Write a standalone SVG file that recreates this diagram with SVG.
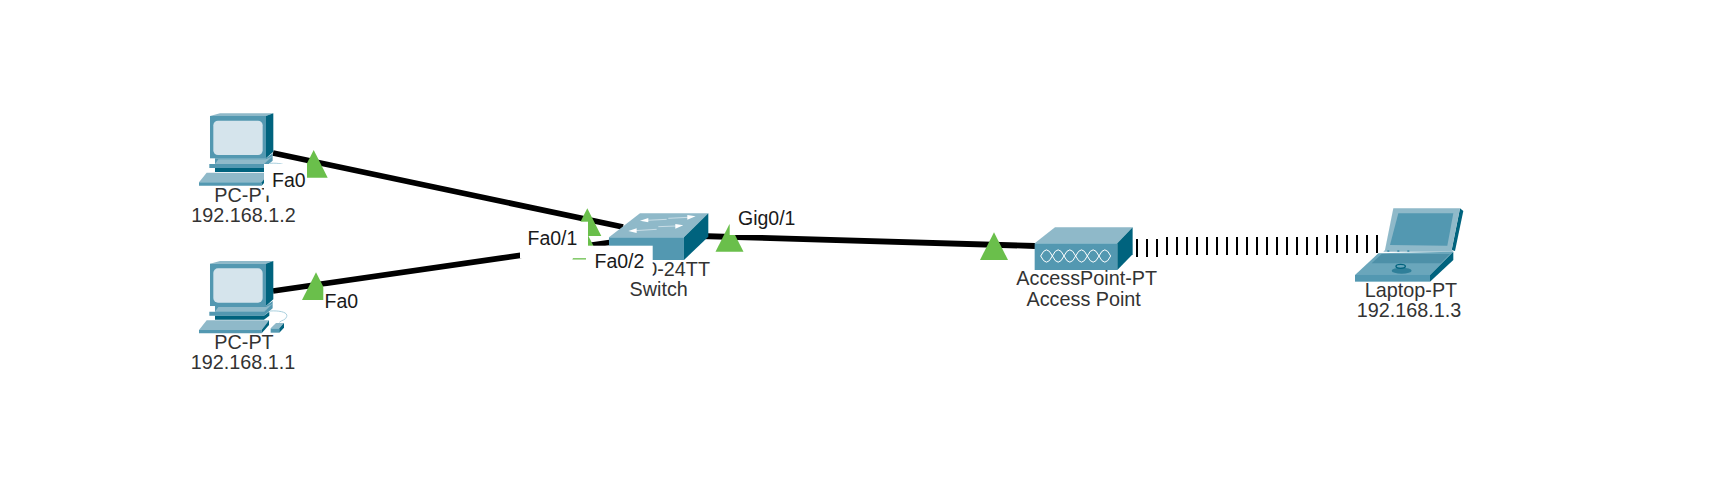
<svg xmlns="http://www.w3.org/2000/svg" xmlns:xlink="http://www.w3.org/1999/xlink" width="1724" height="486" viewBox="0 0 1724 486">
<style>
text{font-family:"Liberation Sans",Arial,sans-serif;font-size:19.8px}
.dev{fill:#333;text-anchor:middle}
.port{fill:#1a1a1a;font-size:19.5px}
.box{fill:#fff}
.lt{fill:#8fb9c9}
.md{fill:#5398b1}
.dk{fill:#00637e}
.wire{fill:none;stroke:#000;stroke-width:5.8}
.radio{fill:none;stroke:#000;stroke-width:2}
.light{fill:#6abf4b}
.wt{fill:none;stroke:#fff;stroke-width:3}
</style>
<defs>
<g id="pc-icon">
<path class="lt" d="M150 78L180 70H340L318 78Z"/>
<rect class="md" x="150" y="78" width="168" height="127"/>
<path class="dk" d="M318 78L340 70V185L318 205Z"/>
<rect x="160" y="92" width="148" height="103" rx="14" fill="#d5e4ec"/>
<path class="md" d="M165 205H318L338 190V198L312 222H165Z"/>
<path class="lt" d="M148 222H165L175 208H318L338 198L312 222V222H148Z"/>
<path class="md" d="M148 222H312L338 198V212L312 234H148Z"/>
<path class="dk" d="M165 234H312L328 222V234L312 246H165Z"/>
<path class="lt" d="M140 248H327L305 277H117Z"/>
<path class="md" d="M117 277H305V287H117Z"/>
<path class="dk" d="M305 277L327 248V262L305 287Z"/>
<path d="M330 220C360 218 385 224 380 237C378 247 365 247 358 254" fill="none" stroke="#a9cfdd" stroke-width="3"/>
<path class="lt" d="M332 272L348 256H372L358 272Z"/>
<path class="md" d="M332 272H358V285H332Z"/>
<path class="dk" d="M358 272L372 256V270L358 285Z"/>
</g>
</defs>

<g id="connectors">
<path class="wire" d="M273 153L623 227"/>
<path class="wire" d="M273 291L620 241"/>
<path class="wire" d="M700 236L1035 246"/>
<path class="radio" d="M1137 239V257M1147 239V257M1157 239V257M1167 237V255M1177 237V255M1187 237V255M1197 237V255M1207 237V255M1217 237V255M1227 237V255M1237 237V255M1247 237V255M1257 237V255M1267 237V255M1277 237V255M1287 237V255M1297 237V255M1307 237V255M1317 237V255M1327 235V253M1337 235V253M1347 235V253M1357 235V253M1367 235V253M1377 235V253"/>
</g>

<g id="pc1">
<use xlink:href="#pc-icon" href="#pc-icon" transform="translate(160 90) scale(.3333)"/>
<text class="dev" x="244" y="201.8">PC-PT</text>
<text class="dev" x="243.5" y="221.8">192.168.1.2</text>
</g>
<g id="pc2">
<use xlink:href="#pc-icon" href="#pc-icon" transform="translate(160 237.7) scale(.3333)"/>
<text class="dev" x="244" y="349.3">PC-PT</text>
<text class="dev" x="243" y="369.3">192.168.1.1</text>
</g>
<g id="switch">
<g transform="translate(460 175) scale(.3333)">
<path class="lt" d="M447 187L540 115H745L672 187Z"/>
<rect class="md" x="447" y="187" width="225" height="68"/>
<path class="dk" d="M672 187L745 115V185L672 255Z"/>
<path d="M560 136L620 133M625 130L685 127M525 167L590 163M595 155L650 153" fill="none" stroke="#d5e4ec" stroke-width="2.500"/>
<path d="M540 137L565 129V142ZM707 124L682 120V134ZM505 168L530 160V174ZM670 151L646 147V161Z" fill="#fff"/>
</g>
<text class="dev" style="text-anchor:end" x="710" y="276">0-24TT</text>
<text class="dev" x="658.700" y="296">Switch</text>
</g>
<g id="access-point">
<g transform="translate(1010 215) scale(.3333)">
<path class="lt" d="M74 85L135 37H368L322 85Z"/>
<rect class="md" x="74" y="85" width="248" height="80"/>
<path class="dk" d="M322 85L368 37V118L322 165Z"/>
<path class="wt" d="M92 123q17.500 -37 35 0t35 0t35 0t35 0t35 0t35 0M92 123q17.500 37 35 0t35 0t35 0t35 0t35 0t35 0"/>
</g>
<text class="dev" x="1086.700" y="285">AccessPoint-PT</text>
<text class="dev" x="1083.700" y="305.700">Access Point</text>
</g>
<g id="laptop">
<g transform="translate(1340 195) scale(.3333)">
<path class="dk" d="M360 40L370 48L345 168L335 165Z"/>
<path class="lt" d="M135 165L160 40H360L335 165Z"/>
<path class="md" d="M150 150L175 55H340L322 152Z"/>
<path class="lt" d="M135 165H335L340 170H130Z"/>
<path d="M142 165h6v6h-6ZM172 165h6v6h-6ZM202 165h6v6h-6Z" fill="#5398b1"/>
<path d="M45 240L115 175L340 170L270 240Z" fill="#6aa6bb"/>
<path d="M95 205L125 177H330L302 205Z" fill="#4d90a8"/>
<rect class="md" x="45" y="240" width="225" height="20"/>
<path class="dk" d="M270 240L340 170V195L270 260Z"/>
<ellipse cx="185" cy="227" rx="30" ry="9" fill="#2f7f99"/>
<ellipse cx="182" cy="214" rx="14" ry="6" fill="none" stroke="#00637e" stroke-width="4"/>
</g>
<text class="dev" x="1411" y="297.300">Laptop-PT</text>
<text class="dev" x="1409" y="317.300">192.168.1.3</text>
</g>

<g id="link-lights">
<path class="light" d="M313.700 150L327.700 177.700H299.700Z"/>
<path class="light" d="M316 272.300L330 300H302Z"/>
<path class="light" d="M586.300 231.700L600.300 259.400H572.300Z"/>
<path class="light" d="M587.300 208.300L601.300 236H573.300Z"/>
<path class="light" d="M729.500 224L743.500 251.700H715.500Z"/>
<path class="light" d="M994 232.300L1008 260H980Z"/>
</g>

<g id="port-labels">
<g id="port-pc1-fa0"><rect class="box" x="264" y="164" width="43" height="31.500"/><text class="port" x="272" y="186.700">Fa0</text></g>
<g id="port-pc2-fa0"><rect class="box" x="323.300" y="286.700" width="42" height="27"/><text class="port" x="324.500" y="308.300">Fa0</text></g>
<g id="port-fa01"><rect class="box" x="520" y="221.700" width="68" height="36.500"/><text class="port" x="527.500" y="245">Fa0/1</text></g>
<g id="port-fa02"><rect class="box" x="586" y="245.700" width="66.700" height="33"/><text class="port" x="594.500" y="268.300">Fa0/2</text></g>
<g id="port-gig01"><rect class="box" x="729.700" y="205" width="73" height="30"/><text class="port" x="738" y="225">Gig0/1</text></g>
</g>
</svg>
